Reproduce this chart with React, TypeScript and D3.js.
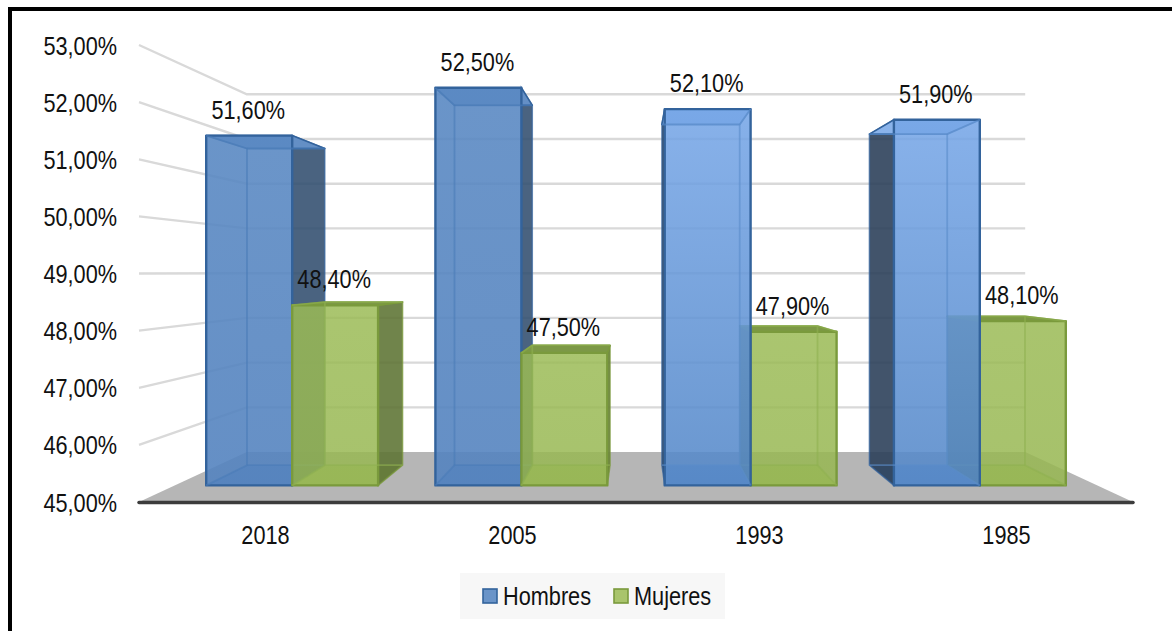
import React from "react";
import * as d3 from "d3";

const categories = ["2018", "2005", "1993", "1985"];
const seriesNames = ["Hombres", "Mujeres"];
const hombres = [51.6, 52.5, 52.1, 51.9];
const mujeres = [48.4, 47.5, 47.9, 48.1];
const ticks = [45, 46, 47, 48, 49, 50, 51, 52, 53];

const W = 1172, H = 631;
const VP = { x: 636, y: 272 };
const S_FRONT = 0.928, S_BACK = 0.84, S_WALL = 0.783;
const yWorld = d3.scaleLinear().domain([45, 53]).range([502, 45]);
const xGroup = d3.scaleBand<string>().domain(categories).range([-494, 494]).paddingInner(0.25).paddingOuter(0.125);
const xSeries = d3.scaleBand<string>().domain(seriesNames).range([0, xGroup.bandwidth()]);

const proj = (X: number, v: number, s: number): [number, number] => [
  VP.x + X * s,
  VP.y + (yWorld(v) - VP.y) * s,
];
const poly = (pts: [number, number][]) => pts.map((p) => `${p[0].toFixed(1)},${p[1].toFixed(1)}`).join(" ");
const fmt = (v: number) => v.toFixed(2).replace(".", ",") + "%";

const FONT = "'Liberation Sans', Arial, sans-serif";

const Txt = ({ x, y, children, size = 26, anchor = "middle", sx = 0.835 }: any) => (
  <text
    transform={`translate(${x},${y}) scale(${sx},1)`}
    fontFamily={FONT}
    fontSize={size}
    textAnchor={anchor}
    fill="#111"
  >
    {children}
  </text>
);

type Palette = { grad: string; line: string; inner: string; top: string; side: string };
const palettes: Record<string, Palette> = {
  "Hombres-dark": { grad: "url(#hDark)", line: "#33639c", inner: "#4a7cb8", top: "#648fc5", side: "#33506f" },
  "Hombres-light": { grad: "url(#hLight)", line: "#33639c", inner: "#5a8cca", top: "#8ab3ea", side: "#2a3e56" },
  Mujeres: { grad: "url(#m)", line: "#7a9a3c", inner: "#8fb050", top: "#7c9846", side: "#5f7436" },
};

const Bar = ({ cat, name, value }: { cat: string; name: string; value: number }) => {
  const x0 = xGroup(cat)! + xSeries(name)!;
  const x1 = x0 + xSeries.bandwidth();
  const light = name === "Hombres" && (cat === "1993" || cat === "1985");
  const pal = name === "Mujeres" ? palettes.Mujeres : light ? palettes["Hombres-light"] : palettes["Hombres-dark"];
  const F = (X: number, v: number) => proj(X, v, S_FRONT);
  const B = (X: number, v: number) => proj(X, v, S_BACK);
  const left = x1 < 0;
  const right = x0 > 0;
  const base = 45;
  const outerX = left ? x1 : x0;
  const innerX = left ? x0 : x1;
  const outerVisible = left || right;
  const edge = { fill: "none", stroke: pal.inner, strokeWidth: 1.8, strokeOpacity: 0.6 };
  return (
    <g>
      <polygon points={poly([B(x0, base), B(x1, base), B(x1, value), B(x0, value)])} fill={pal.top} fillOpacity={0.15} />
      <polygon points={poly([F(x0, base), F(x1, base), B(x1, base), B(x0, base)])} fill={pal.inner} fillOpacity={0.7} />
      <polygon points={poly([F(innerX, base), B(innerX, base), B(innerX, value), F(innerX, value)])} fill={pal.top} fillOpacity={0.2} />
      {outerVisible && (
        <polygon
          points={poly([F(outerX, base), B(outerX, base), B(outerX, value), F(outerX, value)])}
          fill={pal.side}
          fillOpacity={0.88}
          stroke={pal.line}
          strokeWidth={1.5}
          strokeOpacity={0.7}
        />
      )}
      <polygon points={poly([F(x0, value), F(x1, value), B(x1, value), B(x0, value)])} fill={pal.top} stroke={pal.line} strokeWidth={1.6} strokeLinejoin="round" />
      <polygon
        points={poly([F(x0, base), F(x1, base), F(x1, value), F(x0, value)])}
        fill={pal.grad}
        stroke={pal.line}
        strokeWidth={2.4}
        strokeLinejoin="round"
      />
      {/* back edges showing through the front face */}
      <polyline points={poly([B(innerX, base), B(innerX, value)])} {...edge} />
      <polyline points={poly([B(x0, base), B(x1, base)])} {...edge} />
      <polyline points={poly([B(x0, value), B(x1, value)])} {...edge} />
      <polyline points={poly([F(innerX, base), B(innerX, base)])} {...edge} />
      <polyline points={poly([F(innerX, value), B(innerX, value)])} {...edge} />
    </g>
  );
};

export default function App() {
  const bars = categories.flatMap((cat, i) => [
    { cat, name: seriesNames[0], value: hombres[i] },
    { cat, name: seriesNames[1], value: mujeres[i] },
  ]);
  const order = [...bars].sort((a, b) => {
    const ca = Math.abs(xGroup(a.cat)! + xSeries(a.name)! + xSeries.bandwidth() / 2);
    const cb = Math.abs(xGroup(b.cat)! + xSeries(b.name)! + xSeries.bandwidth() / 2);
    return cb - ca;
  });
  const wallL = -VP.x + 139;
  const wallR = 1133 - VP.x;
  return (
    <svg width={W} height={H} style={{ position: "absolute", left: 0, top: 0, background: "#fff" }}>
      <defs>
        <linearGradient id="hDark" x1="0" y1="0" x2="0" y2="1">
          <stop offset="0" stopColor="#5a89c3" stopOpacity={0.88} />
          <stop offset="1" stopColor="#5483bf" stopOpacity={0.88} />
        </linearGradient>
        <linearGradient id="hLight" x1="0" y1="0" x2="0" y2="1">
          <stop offset="0" stopColor="#76a6e7" stopOpacity={0.85} />
          <stop offset="1" stopColor="#5286c7" stopOpacity={0.85} />
        </linearGradient>
        <linearGradient id="m" x1="0" y1="0" x2="0" y2="1">
          <stop offset="0" stopColor="#9cbc56" stopOpacity={0.82} />
          <stop offset="1" stopColor="#98b852" stopOpacity={0.82} />
        </linearGradient>
      </defs>

      {/* frame */}
      <path d={`M10,${H} V9 H${W}`} fill="none" stroke="#000" strokeWidth={4} />

      {/* floor */}
      <polygon
        points={poly([proj(wallL, 45, 1), proj(wallR, 45, 1), proj(wallR, 45, S_WALL), proj(wallL, 45, S_WALL)])}
        fill="#b6b6b6"
      />

      {/* wall gridlines */}
      {ticks.slice(1).map((t) => (
        <polyline
          key={t}
          points={poly([proj(wallL, t, 1), proj(wallL, t, S_WALL), proj(wallR, t, S_WALL)])}
          fill="none"
          stroke="#d9d9d9"
          strokeWidth={2.4}
        />
      ))}

      {order.map((b) => (
        <Bar key={b.cat + b.name} {...b} />
      ))}

      {/* axis */}
      <line x1={139} x2={1133} y1={502.5} y2={502.5} stroke="#3c3c3c" strokeWidth={3.5} strokeLinecap="round" />

      {/* y labels */}
      {ticks.map((t) => (
        <Txt key={t} x={117} y={yWorld(t) + 9.5} anchor="end">
          {fmt(t)}
        </Txt>
      ))}

      {/* x labels */}
      {categories.map((c) => {
        const cx = proj(xGroup(c)! + xGroup.bandwidth() / 2, 45, 1)[0];
        return (
          <Txt key={c} x={cx} y={544}>
            {c}
          </Txt>
        );
      })}

      {/* value labels */}
      {bars.map((b) => {
        const x0 = xGroup(b.cat)! + xSeries(b.name)!;
        const cx = proj(x0 + xSeries.bandwidth() / 2, b.value, S_FRONT)[0];
        const top = proj(x0, b.value, S_FRONT)[1];
        return (
          <Txt key={b.cat + b.name + "l"} x={cx - 1} y={top - 17}>
            {fmt(b.value)}
          </Txt>
        );
      })}

      {/* legend */}
      <rect x={460} y={573} width={265} height={46} fill="#f7f7f7" />
      <rect x={483} y={589} width={14} height={14} fill="#6a94c8" stroke="#33639c" strokeWidth={1.6} />
      <Txt x={503} y={605} anchor="start">{seriesNames[0]}</Txt>
      <rect x={614} y={589} width={14} height={14} fill="#a9c46c" stroke="#7a9a3c" strokeWidth={1.6} />
      <Txt x={634} y={605} anchor="start">{seriesNames[1]}</Txt>
    </svg>
  );
}
